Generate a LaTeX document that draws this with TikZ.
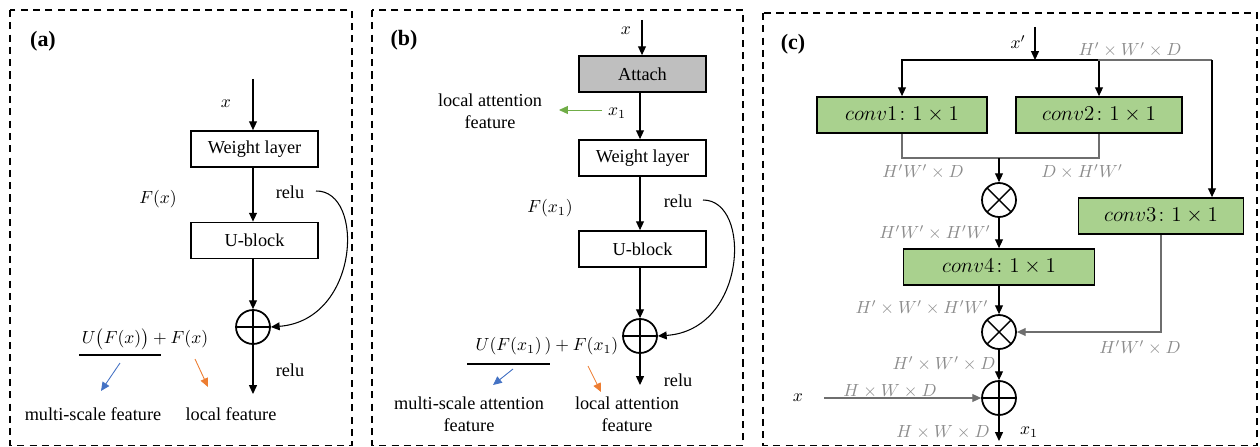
\documentclass[tikz,border=0pt]{standalone}
\usepackage{amsmath}
\usepackage{fontspec}
\setmainfont{Liberation Serif}
\usetikzlibrary{arrows.meta}
\definecolor{convgreen}{RGB}{169,209,142}
\definecolor{attgray}{RGB}{191,191,191}
\definecolor{dimgray}{RGB}{140,140,140}
\definecolor{linegray}{RGB}{110,110,110}
\definecolor{fblue}{RGB}{68,114,196}
\definecolor{forange}{RGB}{237,125,49}
\definecolor{fgreen}{RGB}{112,173,71}
\tikzset{x=0.02cm, y=-0.02cm, >={Triangle[length=5pt,width=4.5pt]},
  frame/.style={draw, line width=0.9pt, dash pattern=on 4pt off 3pt},
  blk/.style={draw, line width=1pt, minimum width=2.54cm, minimum height=0.72cm, inner sep=0pt},
  att/.style={blk, fill=attgray},
  conv/.style={draw, line width=1pt, fill=convgreen, minimum height=0.72cm, inner sep=0pt,
    font=\fontsize{11.5}{13}\selectfont},
  plusnode/.style={circle, draw, line width=1pt, minimum size=0.68cm, inner sep=0pt,
    path picture={\draw[line width=0.8pt] (path picture bounding box.north) -- (path picture bounding box.south)
      (path picture bounding box.west) -- (path picture bounding box.east);}},
  timesnode/.style={circle, draw, line width=1pt, minimum size=0.68cm, inner sep=0pt,
    path picture={\draw[line width=0.8pt] (path picture bounding box.north west) -- (path picture bounding box.south east)
      (path picture bounding box.south west) -- (path picture bounding box.north east);}},
  dimlbl/.style={text=dimgray},
  tag/.style={font=\bfseries\fontsize{12.5}{14}\selectfont},
  ln/.style={line width=0.6pt},
  gln/.style={line width=0.6pt, draw=linegray}}

\begin{document}
\begin{tikzpicture}[font=\fontsize{10.4}{12.5}\selectfont]
  \useasboundingbox (0,0) rectangle (1260,446);
  \draw[frame] (10,10) rectangle (352,445.5);
  \draw[frame] (372,10) rectangle (743,445.5);
  \draw[frame] (763,13) rectangle (1257,445.5);

  % (a)
  \node[tag] (ta) at (43,41) {(a)};
  \coordinate (ia) at (253,79);
  \node (xa) at (226,104) {$x$};
  \node[blk] (wa) at (254.5,149) {Weight layer};
  \node (fa) at (158,199) {$F(x)$};
  \node (ra) at (290,192) {relu};
  \node[blk] (ua) at (254.5,240.5) {U-block};
  \node[plusnode] (pa) at (253,327) {};
  \node (ra2) at (290,370) {relu};
  \coordinate (oa) at (253,394);
  \coordinate (ca) at (316,191);
  \node (ea) at (145,339) {$U\bigl(F(x)\bigr)+F(x)$};
  \node (ma) at (93,414) {multi-scale feature};
  \node (la) at (231,414) {local feature};

  \draw[ln,->] (ia) -- (ia |- wa.north);
  \draw[ln,->] (wa.south -| pa) -- (ua.north -| pa);
  \draw[ln,->] (ua.south -| pa) -- (pa);
  \draw[ln,->] (pa) -- (oa);
  \draw[ln,->] (ca) .. controls (365,190) and (360,320) .. (pa.east);
  \draw[line width=0.8pt] (79,355) -- (161,355);
  \draw[fblue,line width=0.5pt,->] (120,363) -- (101,391);
  \draw[forange,line width=0.5pt,->] (195,359) -- (208,387);

  % (b)
  \node[tag] (tb) at (404,40) {(b)};
  \coordinate (ib) at (642,20);
  \node (xb) at (626,31) {$x$};
  \node[att] (ab) at (642.5,74) {Attach};
  \node (x1b) at (617,113) {$x_1$};
  \node[align=center] (lb) at (490,111) {local attention\\feature};
  \node[blk] (wb) at (642.5,158) {Weight layer};
  \node (fb) at (550,208) {$F(x_1)$};
  \node (rb) at (678,201) {relu};
  \node[blk] (ub) at (642.5,249) {U-block};
  \node[plusnode] (pb) at (640,336) {};
  \node (rb2) at (678,380) {relu};
  \coordinate (ob) at (640,385);
  \coordinate (cb) at (703,200);
  \node (eb) at (547,346) {$U(F(x_1)\,)+F(x_1)$};
  \node[align=center] (mb) at (469,414) {multi-scale attention\\feature};
  \node[align=center] (lb2) at (627,414) {local attention\\feature};

  \draw[ln,->] (ib) -- (ib |- ab.north);
  \draw[ln,->] (ab.south -| pb) -- (wb.north -| pb);
  \draw[ln,->] (wb.south -| pb) -- (ub.north -| pb);
  \draw[ln,->] (ub.south -| pb) -- (pb);
  \draw[ln,->] (pb) -- (ob);
  \draw[ln,->] (cb) .. controls (752,200) and (747,330) .. (pb.east);
  \draw[fgreen,line width=0.5pt,->] (602,110) -- (559,110);
  \draw[line width=0.8pt] (467,364) -- (550,364);
  \draw[fblue,line width=0.5pt,->] (513,369) -- (493,385);
  \draw[forange,line width=0.5pt,->] (588,366) -- (601,392);

  % (c)
  \node[tag] (tc) at (793,44) {(c)};
  \node (xc) at (1018,42) {$x'$};
  \coordinate (ic) at (1035,27);
  \coordinate (j) at (1035,60);
  \coordinate (k) at (1098,60);
  \coordinate (t3) at (1212,60);
  \node[dimlbl] (d0) at (1130,50) {$H'\times W'\times D$};
  \node[conv, minimum width=3.4cm] (c1) at (902,115) {$conv1\colon 1\times 1$};
  \node[conv, minimum width=3.32cm] (c2) at (1099,115) {$conv2\colon 1\times 1$};
  \node[conv, minimum width=3.3cm] (c3) at (1161,216) {$conv3\colon 1\times 1$};
  \coordinate (m) at (999,158);
  \node[dimlbl] (d1) at (923,172) {$H'W'\times D$};
  \node[dimlbl] (d2) at (1082,172) {$D\times H'W'$};
  \node[timesnode] (o1) at (999,200) {};
  \node[dimlbl] (d3) at (935,233) {$H'W'\times H'W'$};
  \node[conv, minimum width=3.82cm] (c4) at (999,267) {$conv4\colon 1\times 1$};
  \node[dimlbl] (d4) at (922,308) {$H'\times W'\times H'W'$};
  \node[timesnode] (o2) at (999,332) {};
  \node[dimlbl] (d5) at (1140,348) {$H'W'\times D$};
  \node[dimlbl] (d6) at (944,364) {$H'\times W'\times D$};
  \node[plusnode] (o3) at (999,398) {};
  \node (x2) at (798,398) {$x$};
  \node[dimlbl] (d7) at (890,391) {$H\times W\times D$};
  \node[dimlbl] (d8) at (943,432) {$H\times W\times D$};
  \node (x1c) at (1029,432) {$x_1$};
  \coordinate (oc) at (999,441);

  \draw[ln,->] (ic) -- (j);
  \draw[ln,->] (j) -| (c1.north);
  \draw[ln,->] (j) -| (c2.north);
  \draw[gln] (k) -- (t3);
  \draw[ln,->] (t3) -- (t3 |- c3.north);
  \draw[gln] (c1.south) |- (m) -| (c2.south);
  \draw[ln,->] (m) -- (o1);
  \draw[ln,->] (o1) -- (c4);
  \draw[ln,->] (c4) -- (o2);
  \draw[gln,->] (c3.south) |- (o2.east);
  \draw[ln,->] (o2) -- (o3);
  \draw[gln,->] ([xshift=0.3cm]x2.east) -- (o3.west);
  \draw[ln,->] (o3) -- (oc);
\end{tikzpicture}
\end{document}
